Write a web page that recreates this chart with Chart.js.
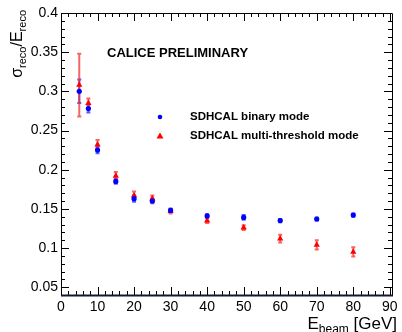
<!DOCTYPE html>
<html>
<head>
<meta charset="utf-8">
<script src="https://cdn.jsdelivr.net/npm/chart.js@4.4.1/dist/chart.umd.min.js"></script>
<style>
  html, body { margin: 0; padding: 0; background: #fff; }
  canvas { display: block; }
</style>
</head>
<body>
<canvas id="reso" width="402" height="332"></canvas>
<script>
// beam energies [GeV]
const energies = [5, 7.5, 10, 15, 20, 25, 30, 40, 50, 60, 70, 80];

// relative resolution, binary readout
const binaryRes = [0.300, 0.278, 0.225, 0.185, 0.163, 0.160, 0.148, 0.141, 0.139, 0.135, 0.137, 0.142];
const binaryErr = [0.015, 0.005, 0.004, 0.003, 0.004, 0.003, 0.002, 0.002, 0.003, 0.002, 0.002, 0.002];

// relative resolution, multi-threshold readout
const multiRes = [0.308, 0.285, 0.232, 0.192, 0.167, 0.163, 0.147, 0.135, 0.126, 0.112, 0.104, 0.095];
const multiErr = [0.040, 0.006, 0.006, 0.005, 0.005, 0.004, 0.003, 0.003, 0.003, 0.005, 0.006, 0.006];

const xTicks = [0, 10, 20, 30, 40, 50, 60, 70, 80, 90];
const yTicks = [0.05, 0.1, 0.15, 0.2, 0.25, 0.3, 0.35, 0.4];

const FONT = "'Liberation Sans', Arial, Helvetica, sans-serif";

function points(ys) {
  return energies.map((x, i) => ({ x: x, y: ys[i] }));
}

// ROOT-like frame: inward major/minor ticks on all four sides
const frame = {
  id: "frame",
  afterDraw(chart) {
    const { ctx, chartArea: a, scales } = chart;
    const xs = scales.x, ys = scales.y;
    ctx.save();
    ctx.strokeStyle = "#000";
    ctx.lineWidth = 1;

    ctx.beginPath();
    for (let v = 0; v <= 90; v += 2) {
      const px = Math.round(xs.getPixelForValue(v)) + 0.5;
      const len = v % 10 === 0 ? 8 : 4;
      ctx.moveTo(px, a.bottom); ctx.lineTo(px, a.bottom - len);
      ctx.moveTo(px, a.top); ctx.lineTo(px, a.top + len);
    }
    for (let k = 5; k <= 40; k++) {
      const v = k / 100;
      const py = Math.round(ys.getPixelForValue(v)) + 0.5;
      const len = k % 5 === 0 ? 8 : 4;
      ctx.moveTo(a.left, py); ctx.lineTo(a.left + len, py);
      ctx.moveTo(a.right, py); ctx.lineTo(a.right - len, py);
    }
    ctx.stroke();

    ctx.beginPath();
    ctx.rect(Math.round(a.left) + 0.5, Math.round(a.top) + 0.5,
             Math.round(a.right - a.left), Math.round(a.bottom - a.top));
    ctx.stroke();
    ctx.lineWidth = 2;
    ctx.strokeStyle = "#141836";
    ctx.beginPath();
    ctx.moveTo(a.left, Math.round(a.bottom) + 0.5);
    ctx.lineTo(a.right + 1, Math.round(a.bottom) + 0.5);
    ctx.stroke();
    ctx.restore();
  }
};

// vertical error bars with small end caps
const errorBars = {
  id: "errorBars",
  beforeDatasetsDraw(chart) {
    const { ctx } = chart;
    const ys = chart.scales.y;
    chart.data.datasets.forEach((ds, di) => {
      const meta = chart.getDatasetMeta(di);
      ctx.save();
      ctx.strokeStyle = ds.errorColor;
      ctx.lineWidth = 2;
      meta.data.forEach((el, i) => {
        const v = ds.data[i].y, e = ds.errors[i];
        const top = ys.getPixelForValue(v + e);
        const bot = ys.getPixelForValue(v - e);
        const x = el.x;
        ctx.beginPath();
        ctx.moveTo(x, top); ctx.lineTo(x, bot);
        ctx.moveTo(x - 2, top); ctx.lineTo(x + 2, top);
        ctx.moveTo(x - 2, bot); ctx.lineTo(x + 2, bot);
        ctx.stroke();
      });
      ctx.restore();
    });
  }
};

// titles, label and legend
const annotations = {
  id: "annotations",
  afterDraw(chart) {
    const { ctx } = chart;
    ctx.save();
    ctx.fillStyle = "#000";
    ctx.textBaseline = "alphabetic";

    // x title, right aligned to the axis end
    const main = "17px " + FONT, sub = "12px " + FONT;
    ctx.font = main; const wE = ctx.measureText("E").width;
    const wRest = ctx.measureText(" [GeV]").width;
    ctx.font = sub; const wSub = ctx.measureText("beam").width;
    let x0 = 397 - (wE + wSub + wRest);
    ctx.textAlign = "left";
    ctx.font = main; ctx.fillText("E", x0, 329);
    ctx.font = sub; ctx.fillText("beam", x0 + wE, 333);
    ctx.font = main; ctx.fillText(" [GeV]", x0 + wE + wSub, 329);

    // y title, rotated, right aligned to the axis top
    const ym = "16px " + FONT, ysb = "11px " + FONT;
    const parts = [["\u03C3", ym, 0], ["reco", ysb, 4], ["/E", ym, 0], ["reco", ysb, 4]];
    let total = 0;
    parts.forEach(p => { ctx.font = p[1]; total += ctx.measureText(p[0]).width; });
    ctx.translate(22, 10);
    ctx.rotate(-Math.PI / 2);
    let cx = -total;
    parts.forEach(p => {
      ctx.font = p[1];
      ctx.fillText(p[0], cx, p[2]);
      cx += ctx.measureText(p[0]).width;
    });
    ctx.setTransform(1, 0, 0, 1, 0, 0);

    ctx.font = "bold 13px " + FONT;
    ctx.textBaseline = "middle";
    ctx.fillText("CALICE PRELIMINARY", 107, 53);

    // legend
    ctx.font = "bold 11.5px " + FONT;
    chart.data.datasets.forEach((ds, i) => {
      const ly = 117 + i * 19;
      ctx.fillStyle = ds.backgroundColor;
      ctx.beginPath();
      if (ds.pointStyle === "triangle") {
        ctx.moveTo(160, ly - 3.5); ctx.lineTo(163.5, ly + 2.5); ctx.lineTo(156.5, ly + 2.5);
        ctx.closePath();
      } else {
        ctx.arc(160, ly, 2.3, 0, Math.PI * 2);
      }
      ctx.fill();
      ctx.fillStyle = "#000";
      ctx.fillText(ds.label, 190, ly);
    });
    ctx.restore();
  }
};

new Chart(document.getElementById("reso"), {
  type: "scatter",
  data: {
    datasets: [
      {
        label: "SDHCAL binary mode",
        data: points(binaryRes),
        errors: binaryErr,
        errorColor: "rgba(40, 40, 255, 0.75)",
        pointStyle: "circle",
        pointRadius: 2.6,
        borderWidth: 0,
        backgroundColor: "#0000ff",
        borderColor: "#0000ff"
      },
      {
        label: "SDHCAL multi-threshold mode",
        data: points(multiRes),
        errors: multiErr,
        errorColor: "rgba(240, 50, 50, 0.75)",
        pointStyle: "triangle",
        pointRadius: 3.6,
        borderWidth: 0,
        backgroundColor: "#ff0000",
        borderColor: "#ff0000"
      }
    ]
  },
  options: {
    responsive: false,
    animation: false,
    devicePixelRatio: 1,
    layout: { padding: { left: 0, top: 13, right: 10, bottom: 0 } },
    plugins: {
      legend: { display: false },
      tooltip: { enabled: false }
    },
    scales: {
      x: {
        type: "linear",
        min: 0,
        max: 90.6,
        afterBuildTicks: s => { s.ticks = xTicks.map(v => ({ value: v })); },
        afterFit: s => { s.height = 37; },
        grid: { display: false, drawTicks: false },
        border: { display: false },
        ticks: {
          color: "#000",
          padding: 4,
          maxRotation: 0,
          autoSkip: false,
          font: { family: FONT, size: 14 }
        }
      },
      y: {
        type: "linear",
        min: 0.04,
        max: 0.4,
        afterBuildTicks: s => { s.ticks = yTicks.map(v => ({ value: v })); },
        afterFit: s => { s.width = 61; },
        grid: { display: false, drawTicks: false },
        border: { display: false },
        ticks: {
          color: "#000",
          padding: 3,
          autoSkip: false,
          callback: v => String(+v.toFixed(2)),
          font: { family: FONT, size: 14 }
        }
      }
    }
  },
  plugins: [errorBars, frame, annotations]
});
</script>
</body>
</html>
